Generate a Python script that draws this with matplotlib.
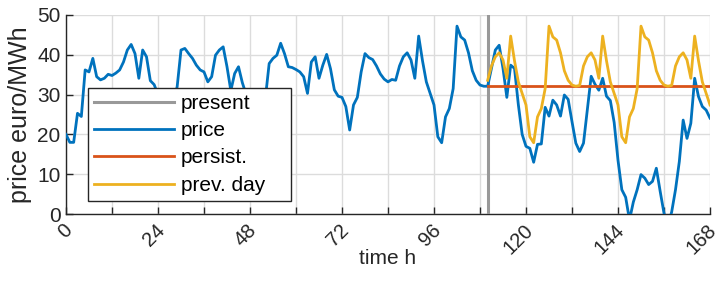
import numpy as np
import matplotlib
matplotlib.use("Agg")
import matplotlib.pyplot as plt
from matplotlib.transforms import ScaledTranslation

plt.rcParams['font.family'] = ['Liberation Sans', 'DejaVu Sans']

# ---- data ----
hours = list(range(0, 169))
price = [
    20.0, 18.0, 18.0, 25.3, 24.5, 36.2, 35.7, 39.1, 34.5, 33.7,
    34.1, 35.1, 34.8, 35.4, 36.2, 38.2, 41.2, 42.6, 40.3, 34.1,
    41.2, 39.5, 33.5, 32.5, 30.0, 26.0, 22.0, 24.0, 28.0, 32.0,
    41.2, 41.6, 40.3, 39.1, 37.4, 36.2, 35.7, 33.2, 34.5, 39.9,
    41.2, 42.0, 37.0, 31.0, 35.3, 37.0, 33.0, 30.0, 26.0, 22.0,
    20.0, 24.0, 29.0, 37.8, 39.1, 39.9, 42.9, 40.3, 37.0, 36.8,
    36.3, 35.7, 34.5, 30.3, 38.2, 39.5, 34.1, 37.4, 40.1, 36.5,
    31.2, 29.6, 29.3, 27.0, 21.1, 27.4, 29.3, 35.7, 40.3, 39.3,
    38.8, 37.2, 35.2, 33.9, 33.2, 33.8, 33.6, 37.2, 39.5, 40.5,
    38.7, 34.1, 44.7, 38.5, 33.2, 30.3, 27.4, 19.4, 17.9, 24.4,
    26.5, 31.5, 47.2, 44.5, 43.7, 40.5, 36.0, 33.6, 32.4, 32.1,
    32.1, 36.6, 41.2, 42.4, 36.6, 29.3, 37.4, 36.6, 27.5, 20.0,
    17.0, 16.5, 13.0, 17.5, 17.6, 26.8, 24.6, 28.6, 27.4, 24.6,
    29.9, 28.8, 23.2, 17.8, 15.7, 17.8, 26.1, 34.6, 32.6, 31.1,
    34.1, 29.6, 28.5, 23.0, 13.5, 6.1, 4.2, -1.5, 3.0, 6.1,
    9.9, 9.0, 7.4, 8.2, 11.5, 5.7, 0.2, -3.0, 0.5, 6.1,
    13.2, 23.6, 19.0, 22.8, 34.1, 29.5, 27.0, 26.1, 24.1,
]

present_hour = 110
forecast_hours = list(range(110, 169))
persist = [32.1] * len(forecast_hours)
prev_day = [
    33.6, 37.2, 39.5, 40.5, 38.7, 34.1, 44.7, 38.5, 33.2, 30.3,
    27.4, 19.4, 17.9, 24.4, 26.5, 31.5, 47.2, 44.5, 43.7, 40.5,
    36.0, 33.6, 32.4, 32.1, 32.3,
    37.2, 39.5, 40.5, 38.7, 34.1, 44.7, 38.5, 33.2, 30.3,
    27.4, 19.4, 17.9, 24.4, 26.5, 31.5, 47.2, 44.5, 43.7, 40.5,
    36.0, 33.6, 32.4, 32.1, 32.3,
    37.2, 39.5, 40.5, 38.7, 34.1, 44.7, 38.5, 33.2, 30.3, 27.4,
]

xtick_values = list(range(0, 169, 12))
xtick_labels = [str(v) if v % 24 == 0 else '' for v in xtick_values]
ytick_values = [0, 10, 20, 30, 40, 50]

# ---- figure ----
W, H = 719, 291
fig = plt.figure(figsize=(W / 100, H / 100), dpi=100)
ax = fig.add_axes([66 / W, 1 - 214 / H, (710 - 66) / W, (214 - 15) / H])

c_present = '#999999'
c_price = '#0072BD'
c_persist = '#D95319'
c_prev = '#EDB120'

ax.plot([present_hour, present_hour], [0, 50], color=c_present, lw=2.2, label='present', zorder=3)
ax.plot(hours, price, color=c_price, lw=2.0, label='price', zorder=4)
ax.plot(forecast_hours, persist, color=c_persist, lw=2.0, label='persist.', zorder=5)
ax.plot(forecast_hours, prev_day, color=c_prev, lw=2.0, label='prev. day', zorder=6)

ax.set_xlim(0, 168)
ax.set_ylim(0, 50)
ax.set_xticks(xtick_values)
ax.set_xticklabels(xtick_labels, rotation=45, ha='right', va='top',
                   rotation_mode='anchor', fontsize=14.5, color='#262626')
ax.set_yticks(ytick_values)
ax.set_yticklabels([str(v) for v in ytick_values], fontsize=15, color='#262626')
ax.tick_params(axis='both', direction='in', length=5, width=1, color='#262626')
ax.tick_params(axis='x', pad=5)
ax.tick_params(axis='y', pad=4)

shift = ScaledTranslation(-3 / 100, 0, fig.dpi_scale_trans)
for lbl in ax.get_xticklabels():
    lbl.set_transform(lbl.get_transform() + shift)

ax.grid(True, color='#dcdcdc', lw=1.0, zorder=0)
ax.set_axisbelow(True)
for s in ['top', 'right']:
    ax.spines[s].set_visible(False)
for s in ['left', 'bottom']:
    ax.spines[s].set_color('#262626')
    ax.spines[s].set_linewidth(1.0)

ax.set_xlabel('time h', fontsize=15, color='#262626')
ax.xaxis.set_label_coords(0.5, -0.175)
ax.set_ylabel('price euro/MWh', fontsize=18, color='#262626', labelpad=4)

leg = ax.legend(loc='lower left', bbox_to_anchor=(0.034, 0.065, 0.315, 0.573),
                mode='expand', borderaxespad=0,
                fontsize=15, handlelength=3.85, handletextpad=0.3,
                labelspacing=0.4, borderpad=0.3, fancybox=False, framealpha=1,
                edgecolor='#262626')
leg.get_frame().set_linewidth(1.0)
leg.set_zorder(10)

fig.savefig('out.png', dpi=100)
